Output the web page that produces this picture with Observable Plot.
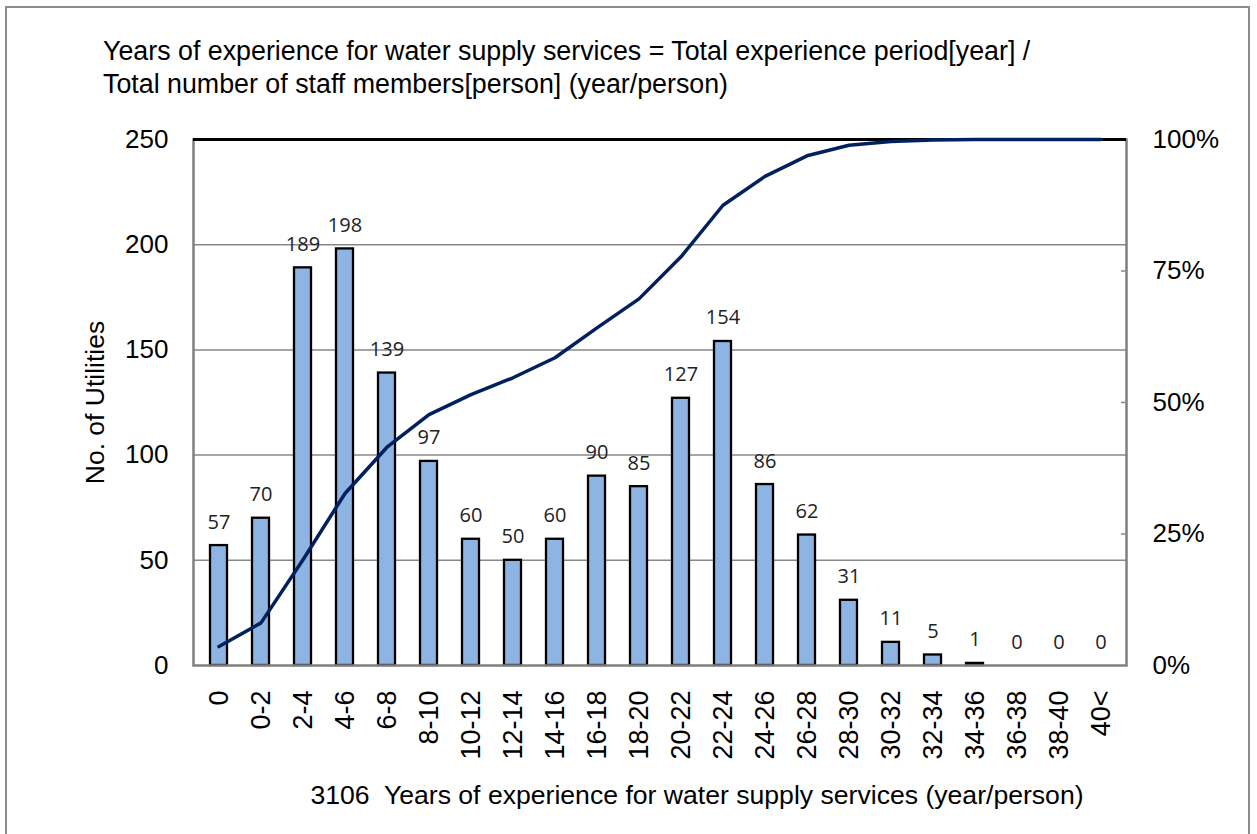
<!DOCTYPE html>
<html>
<head>
<meta charset="utf-8">
<script src="https://cdn.jsdelivr.net/npm/d3@7"></script>
<script src="https://cdn.jsdelivr.net/npm/@observablehq/plot@0.6"></script>
<style>
  html, body { margin: 0; padding: 0; background: #fff; }
  body { width: 1257px; height: 834px; overflow: hidden; position: relative; font-family: "Liberation Sans", Arial, sans-serif; }
  #outer { position: absolute; left: 5px; top: 6px; width: 1245px; height: 840px; border: 2px solid #8c8c8c; box-sizing: border-box; }
  #title { position: absolute; left: 103px; top: 35px; font-size: 26.8px; line-height: 33px; color: #000; white-space: nowrap; }
  #chart { position: absolute; left: 0; top: 110px; }
</style>
</head>
<body>
<div id="outer"></div>
<div id="title">Years of experience for water supply services = Total experience period[year] /<br>Total number of staff members[person] (year/person)</div>
<div id="chart"></div>
<script>
// ---- data ----
const categories = ["0","0-2","2-4","4-6","6-8","8-10","10-12","12-14","14-16","16-18","18-20","20-22","22-24","24-26","26-28","28-30","30-32","32-34","34-36","36-38","38-40","40<"];
const counts = [57,70,189,198,139,97,60,50,60,90,85,127,154,86,62,31,11,5,1,0,0,0];
// cumulative share of utilities (%)
const cumulativePct = [3.6,8.1,20.1,32.7,41.5,47.7,51.5,54.7,58.5,64.2,69.7,77.7,87.5,93.0,96.9,98.9,99.6,99.9,100,100,100,100];
const leftTicks = [0,50,100,150,200,250];
const gridValues = [50,100,150,200];
const pctTicks = [0,25,50,75,100];
const pctInnerTicks = [25,50,75];
const yMax = 250;

const yLabel = "No. of Utilities";
const xLabel = "3106  Years of experience for water supply services (year/person)";

const rows = categories.map((c, i) => ({cat: c, n: counts[i], pct: cumulativePct[i]}));
const pctToY = p => p / 100 * yMax;

const chart = Plot.plot({
  width: 1257,
  height: 724,
  marginLeft: 193,
  marginRight: 131,
  marginTop: 29,
  marginBottom: 169,
  style: {fontFamily: "'Liberation Sans', Arial, sans-serif", fontSize: "26px", color: "#000", background: "transparent", overflow: "visible"},
  x: {type: "band", domain: categories, paddingInner: 0.6, paddingOuter: 0.3, label: null},
  y: {domain: [0, yMax], label: null},
  marks: [
    Plot.ruleY(gridValues, {stroke: "#888888", strokeWidth: 1.5}),
    Plot.barY(rows, {x: "cat", y: "n", fill: "#8DB4E2", stroke: "#000", strokeWidth: 2.3}),
    Plot.frame({stroke: "#7f7f7f", strokeWidth: 2.5}),
    Plot.ruleY([yMax], {stroke: "#000", strokeWidth: 3}),
    Plot.line(rows, {x: "cat", y: d => pctToY(d.pct), stroke: "#002060", strokeWidth: 3.5}),
    Plot.text(rows, {x: "cat", y: "n", text: d => String(d.n), dy: -17, lineAnchor: "bottom", fontFamily: "'Open Sans', 'Noto Sans', sans-serif", fontSize: 20, fill: "#222"}),
    Plot.axisY({anchor: "left", ticks: leftTicks, tickSize: 0, tickPadding: 25, label: null, fontSize: 26}),
    Plot.axisY({anchor: "right", ticks: pctInnerTicks.map(pctToY), tickSize: -6, tickFormat: () => "", label: null, stroke: "#888", strokeWidth: 1.5}),
    Plot.axisY({anchor: "right", ticks: pctTicks.map(pctToY), tickFormat: d => Math.round(d / yMax * 100) + "%", tickSize: 0, tickPadding: 26, label: null, fontSize: 26}),
    Plot.axisX({anchor: "bottom", tickRotate: -90, tickSize: 0, tickPadding: 25, label: null, fontSize: 27}),
    Plot.text([yLabel], {text: d => d, frameAnchor: "left", textAnchor: "middle", rotate: -90, dx: -98, fontSize: 26.5}),
    Plot.text([xLabel], {text: d => d, frameAnchor: "bottom", textAnchor: "middle", dx: 37, dy: 130, fontSize: 26.6, lineAnchor: "middle"})
  ]
});
document.getElementById("chart").appendChild(chart);
</script>
</body>
</html>
